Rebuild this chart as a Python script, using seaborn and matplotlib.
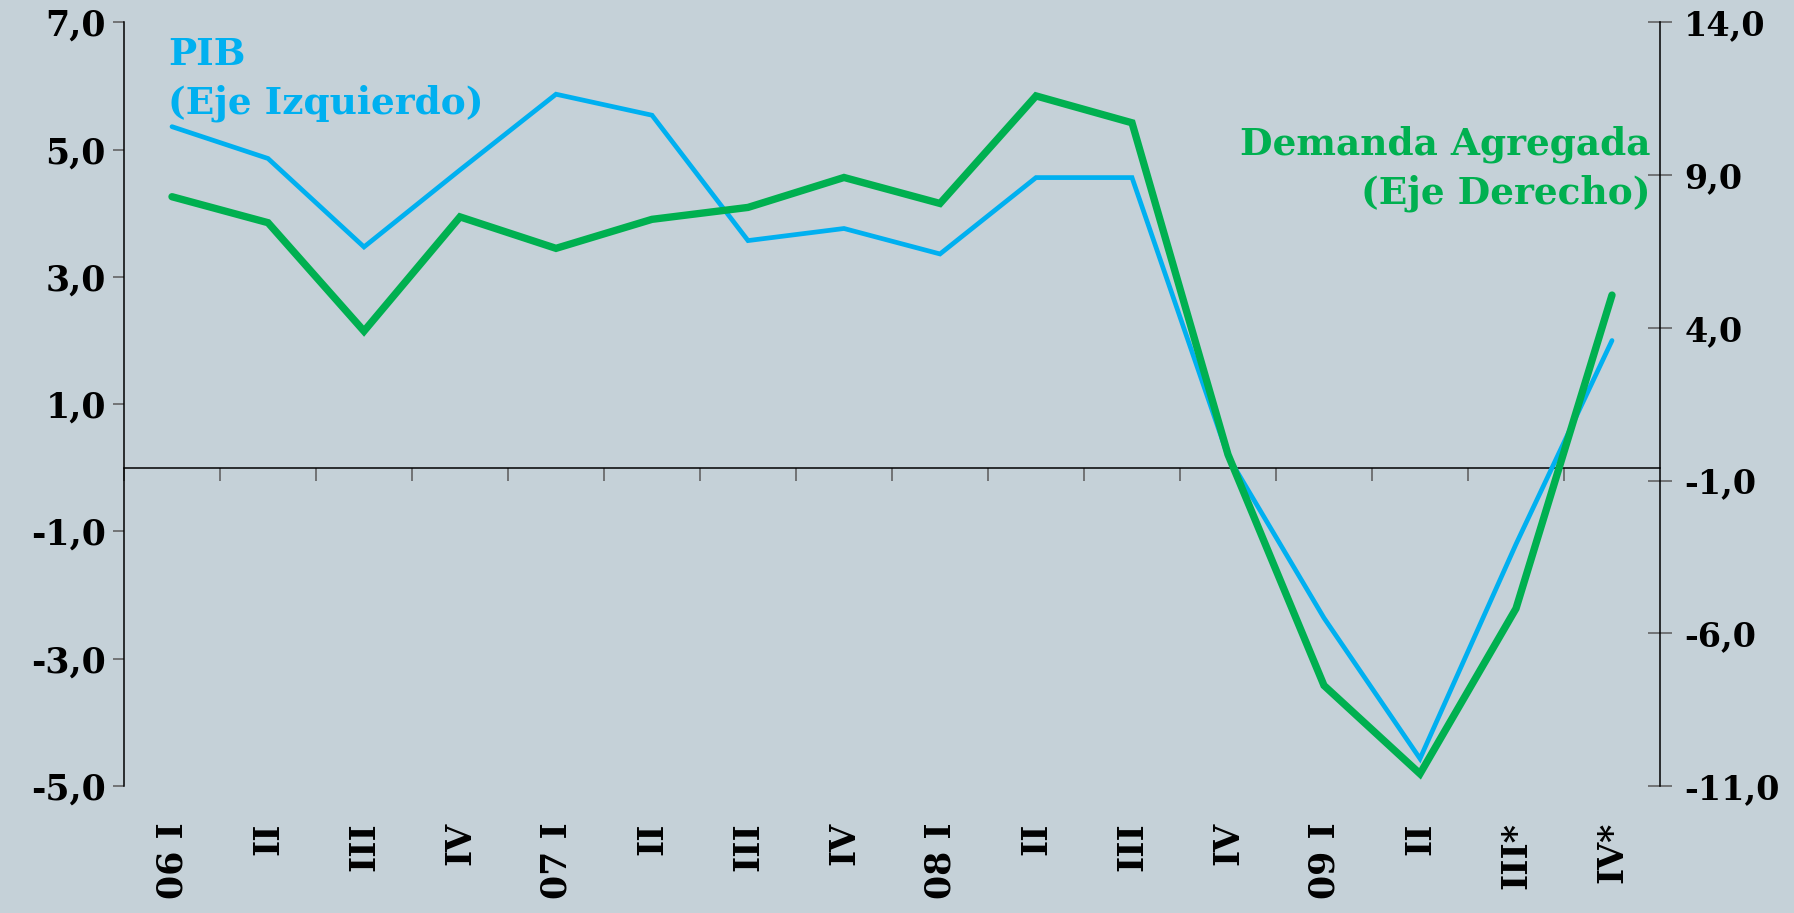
import matplotlib
matplotlib.use("Agg")
import matplotlib.pyplot as plt
import seaborn as sns
import pandas as pd
from matplotlib.ticker import FuncFormatter, FixedLocator

# ---- data ----
quarters = ["06 I", "II", "III", "IV", "07 I", "II", "III", "IV",
            "08 I", "II", "III", "IV", "09 I", "II", "III*", "IV*"]
pib = [5.36, 4.86, 3.47, 4.68, 5.87, 5.54, 3.57, 3.76,
       3.36, 4.56, 4.56, 0.18, -2.36, -4.57, -1.2, 2.0]
demanda = [8.29, 7.44, 3.89, 7.63, 6.60, 7.55, 7.94, 8.92,
           8.07, 11.59, 10.71, -0.15, -7.71, -10.6, -5.19, 5.07]
left_ticks = [-5, -3, -1, 1, 3, 5, 7]
right_ticks = [-11, -6, -1, 4, 9, 14]
label_pib = "PIB\n(Eje Izquierdo)"
label_dem = "Demanda Agregada\n(Eje Derecho)"

BG = "#C5D1D8"
BLUE = "#00B0F0"
GREEN = "#00B050"
TICKC = "#5A5A5A"

sns.set_theme(style="white")
plt.rcParams["font.family"] = ["DejaVu Serif"]
plt.rcParams["font.weight"] = "bold"
plt.rcParams["text.color"] = "black"
plt.rcParams["xtick.labelcolor"] = "black"
plt.rcParams["ytick.labelcolor"] = "black"

df = pd.DataFrame({"x": range(len(quarters)), "pib": pib, "dem": demanda})

fig = plt.figure(figsize=(17.94, 9.13), dpi=100, facecolor=BG)
ax = fig.add_axes([124 / 1794, 1 - 786 / 913, 1536 / 1794, (786 - 22.3) / 913])
ax.set_facecolor(BG)

sns.lineplot(data=df, x="x", y="pib", ax=ax, color=BLUE, linewidth=3.4,
             solid_joinstyle="miter")
ax.set_xlim(-0.5, len(quarters) - 0.5)
ax.set_ylim(-5, 7)
ax.set_xlabel("")
ax.set_ylabel("")

ax2 = ax.twinx()
sns.lineplot(data=df, x="x", y="dem", ax=ax2, color=GREEN, linewidth=5.3,
             solid_joinstyle="miter")
ax2.set_ylim(-11, 14)
ax2.set_ylabel("")
ax2.set_xlim(-0.5, len(quarters) - 0.5)

fmt = FuncFormatter(lambda v, p: f"{v:.1f}".replace(".", ","))

# left axis
ax.yaxis.set_major_locator(FixedLocator(left_ticks))
ax.yaxis.set_major_formatter(fmt)
ax.tick_params(axis="y", direction="out", length=8, width=1.1, color=TICKC,
               labelsize=25, pad=5, left=True, labelcolor="black")
for lab in ax.get_yticklabels():
    lab.set_fontweight("bold")

# right axis
ax2.yaxis.set_major_locator(FixedLocator(right_ticks))
ax2.yaxis.set_major_formatter(fmt)
ax2.tick_params(axis="y", direction="inout", length=17, width=1.1, color=TICKC,
                labelsize=24, pad=9, right=True, labelcolor="black")
for lab in ax2.get_yticklabels():
    lab.set_fontweight("bold")

# category labels
ax.set_xticks(range(len(quarters)))
ax.set_xticklabels(quarters, rotation=90, fontsize=25, fontweight="bold",
                   va="top", ha="center", color="black")
ax.tick_params(axis="x", length=0, pad=26, bottom=True, labelcolor="black")

# spines
for a in (ax, ax2):
    a.spines["top"].set_visible(False)
    a.spines["bottom"].set_visible(False)
ax.spines["right"].set_visible(False)
ax2.spines["left"].set_visible(False)
ax.spines["left"].set_color("black")
ax.spines["left"].set_linewidth(1.1)
ax2.spines["right"].set_color("black")
ax2.spines["right"].set_linewidth(1.1)
ax2.grid(False)
ax.grid(False)

# zero line axis with boundary ticks
sec = ax.secondary_xaxis(0, transform=ax.transData)
sec.set_xticks([i - 0.5 for i in range(len(quarters))])
sec.set_xticklabels([])
sec.tick_params(axis="x", direction="out", length=9.5, width=1.1, color=TICKC)
sec.spines["bottom"].set_color("black")
sec.spines["bottom"].set_linewidth(1.1)

# series annotations
ax.text(0.0286, 0.982, label_pib, transform=ax.transAxes, color=BLUE,
        fontsize=27, fontweight="bold", ha="left", va="top", linespacing=1.4)
ax2.text(0.994, 0.865, label_dem, transform=ax2.transAxes, color=GREEN,
         fontsize=27, fontweight="bold", ha="right", va="top", linespacing=1.4,
         multialignment="right")

fig.savefig("out.png", dpi=100, facecolor=BG)
